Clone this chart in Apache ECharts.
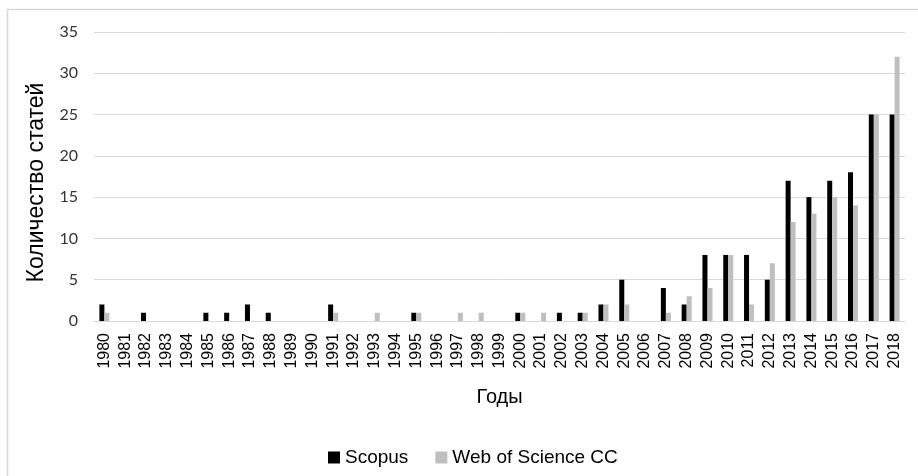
<!DOCTYPE html>
<html>
<head>
<meta charset="utf-8">
<script src="https://cdn.jsdelivr.net/npm/echarts@6/dist/echarts.min.js"></script>
<style>html,body{margin:0;padding:0;background:#fff;}#c{width:918px;height:476px;}</style>
</head>
<body>
<div id="c"></div>
<script>
const years = ['1980','1981','1982','1983','1984','1985','1986','1987','1988','1989','1990','1991','1992','1993','1994','1995','1996','1997','1998','1999','2000','2001','2002','2003','2004','2005','2006','2007','2008','2009','2010','2011','2012','2013','2014','2015','2016','2017','2018'];
const scopus = [2,0,1,0,0,1,1,2,1,0,0,2,0,0,0,1,0,0,0,0,1,0,1,1,2,5,0,4,2,8,8,8,5,17,15,17,18,25,25];
const wos =    [1,0,0,0,0,0,0,0,0,0,0,1,0,1,0,1,0,1,1,0,1,1,0,1,2,2,0,1,3,4,8,2,7,12,13,15,14,25,32];
const yTicks = [0,5,10,15,20,25,30,35];

const chart = echarts.init(document.getElementById('c'), null, {renderer:'canvas'});
chart.setOption({
  animation:false,
  backgroundColor:'#fff',
  graphic:[{type:'rect',shape:{x:7.5,y:9.5,width:1200,height:1200},style:{fill:'none',stroke:'#d9d9d9',lineWidth:1.5},silent:true}],
  grid:{left:94,right:13,top:32,bottom:155},
  legend:{
    top:443,left:323,itemWidth:12,itemHeight:12,itemGap:27,
    icon:'rect',
    textStyle:{fontFamily:'Liberation Sans',fontSize:19,color:'#000'},
    data:['Scopus','Web of Science CC']
  },
  xAxis:{
    type:'category',data:years,
    name:'Годы',nameLocation:'middle',nameGap:66,
    nameTextStyle:{fontFamily:'Liberation Sans',fontSize:20,color:'#000'},
    axisLine:{show:true,lineStyle:{color:'#d9d9d9'}},
    axisTick:{show:false},
    axisLabel:{rotate:90,interval:0,margin:12,fontFamily:'Liberation Sans',fontSize:16,color:'#000'}
  },
  yAxis:{
    type:'value',min:0,max:35,interval:5,
    name:'Количество статей',nameLocation:'middle',nameGap:37,
    nameTextStyle:{fontFamily:'Liberation Sans',fontSize:23,color:'#000',padding:[0,12,0,0]},
    axisLine:{show:false},axisTick:{show:false},
    axisLabel:{margin:16,fontFamily:'Lato',fontSize:16,color:'#333',
      formatter:function(v){return yTicks.indexOf(v)>=0?String(v):'';}},
    splitLine:{lineStyle:{color:'#d9d9d9',width:1}}
  },
  series:[
    {name:'Scopus',type:'bar',data:scopus,barWidth:5,barGap:'0%',itemStyle:{color:'#000'}},
    {name:'Web of Science CC',type:'bar',data:wos,barWidth:5,barGap:'0%',itemStyle:{color:'#bfbfbf'}}
  ]
});
</script>
</body>
</html>
